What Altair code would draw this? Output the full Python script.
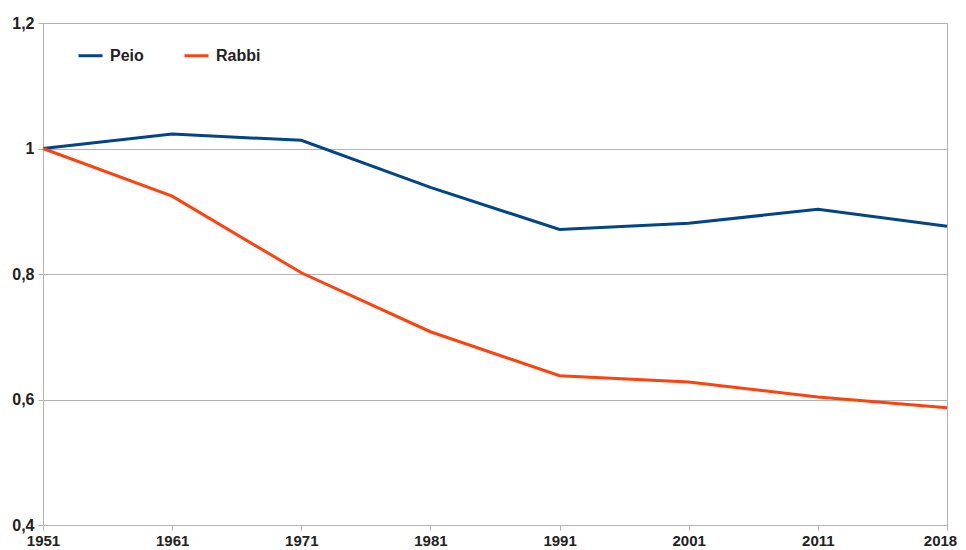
import altair as alt
import pandas as pd

years = ["1951", "1961", "1971", "1981", "1991", "2001", "2011", "2018"]
peio = [1.0, 1.023, 1.013, 0.938, 0.871, 0.881, 0.903, 0.876]
rabbi = [1.0, 0.924, 0.802, 0.708, 0.638, 0.628, 0.604, 0.587]
series = ["Peio", "Rabbi"]
colors = ["#004586", "#ff420e"]

rows = []
for name, vals in zip(series, [peio, rabbi]):
    for y, v in zip(years, vals):
        rows.append({"anno": y, "valore": v, "comune": name})
df = pd.DataFrame(rows)

FONT = "Liberation Sans"

chart = alt.Chart(df).mark_line(strokeWidth=3).encode(
    x=alt.X("anno:O", sort=years,
            scale=alt.Scale(type="point", padding=0),
            axis=alt.Axis(title=None, labelAngle=0, labelFont=FONT, labelFontSize=15,
                          labelFontWeight="bold", labelColor="#222222",
                          domainColor="#b3b3b3", tickColor="#b3b3b3", tickSize=5,
                          labelPadding=3, labelOverlap=False, labelBound=False,
                          labelOffset={"expr": "datum.label == '2018' ? -7 : 0"},
                          grid=False)),
    y=alt.Y("valore:Q",
            scale=alt.Scale(domain=[0.4, 1.2], nice=False, zero=False),
            axis=alt.Axis(title=None, values=[0.4, 0.6, 0.8, 1.0, 1.2],
                          labelExpr="replace(format(datum.value, '.1~f'), '.', ',')",
                          labelFont=FONT, labelFontSize=16, labelFontWeight="bold",
                          labelColor="#222222", domainColor="#b3b3b3",
                          tickColor="#b3b3b3", tickSize=5, labelPadding=4,
                          gridColor="#b3b3b3", gridWidth=1)),
    color=alt.Color("comune:N", sort=series,
                    scale=alt.Scale(domain=series, range=colors),
                    legend=alt.Legend(title=None, orient="none", legendX=34, legendY=19,
                                      direction="horizontal", symbolType="stroke",
                                      symbolSize=576, symbolStrokeWidth=3,
                                      labelFont=FONT, labelFontSize=16,
                                      labelFontWeight="bold", labelColor="#222222",
                                      labelOffset=6, columnPadding=34)),
).properties(
    width=904, height=502,
    padding={"left": 35, "top": 15, "right": 11, "bottom": 26},
    autosize=alt.AutoSizeParams(type="none"),
    background="white",
).configure_view(stroke="#b3b3b3", strokeWidth=1)

chart.save("out.html", embed_options={"renderer": "svg", "actions": False})
